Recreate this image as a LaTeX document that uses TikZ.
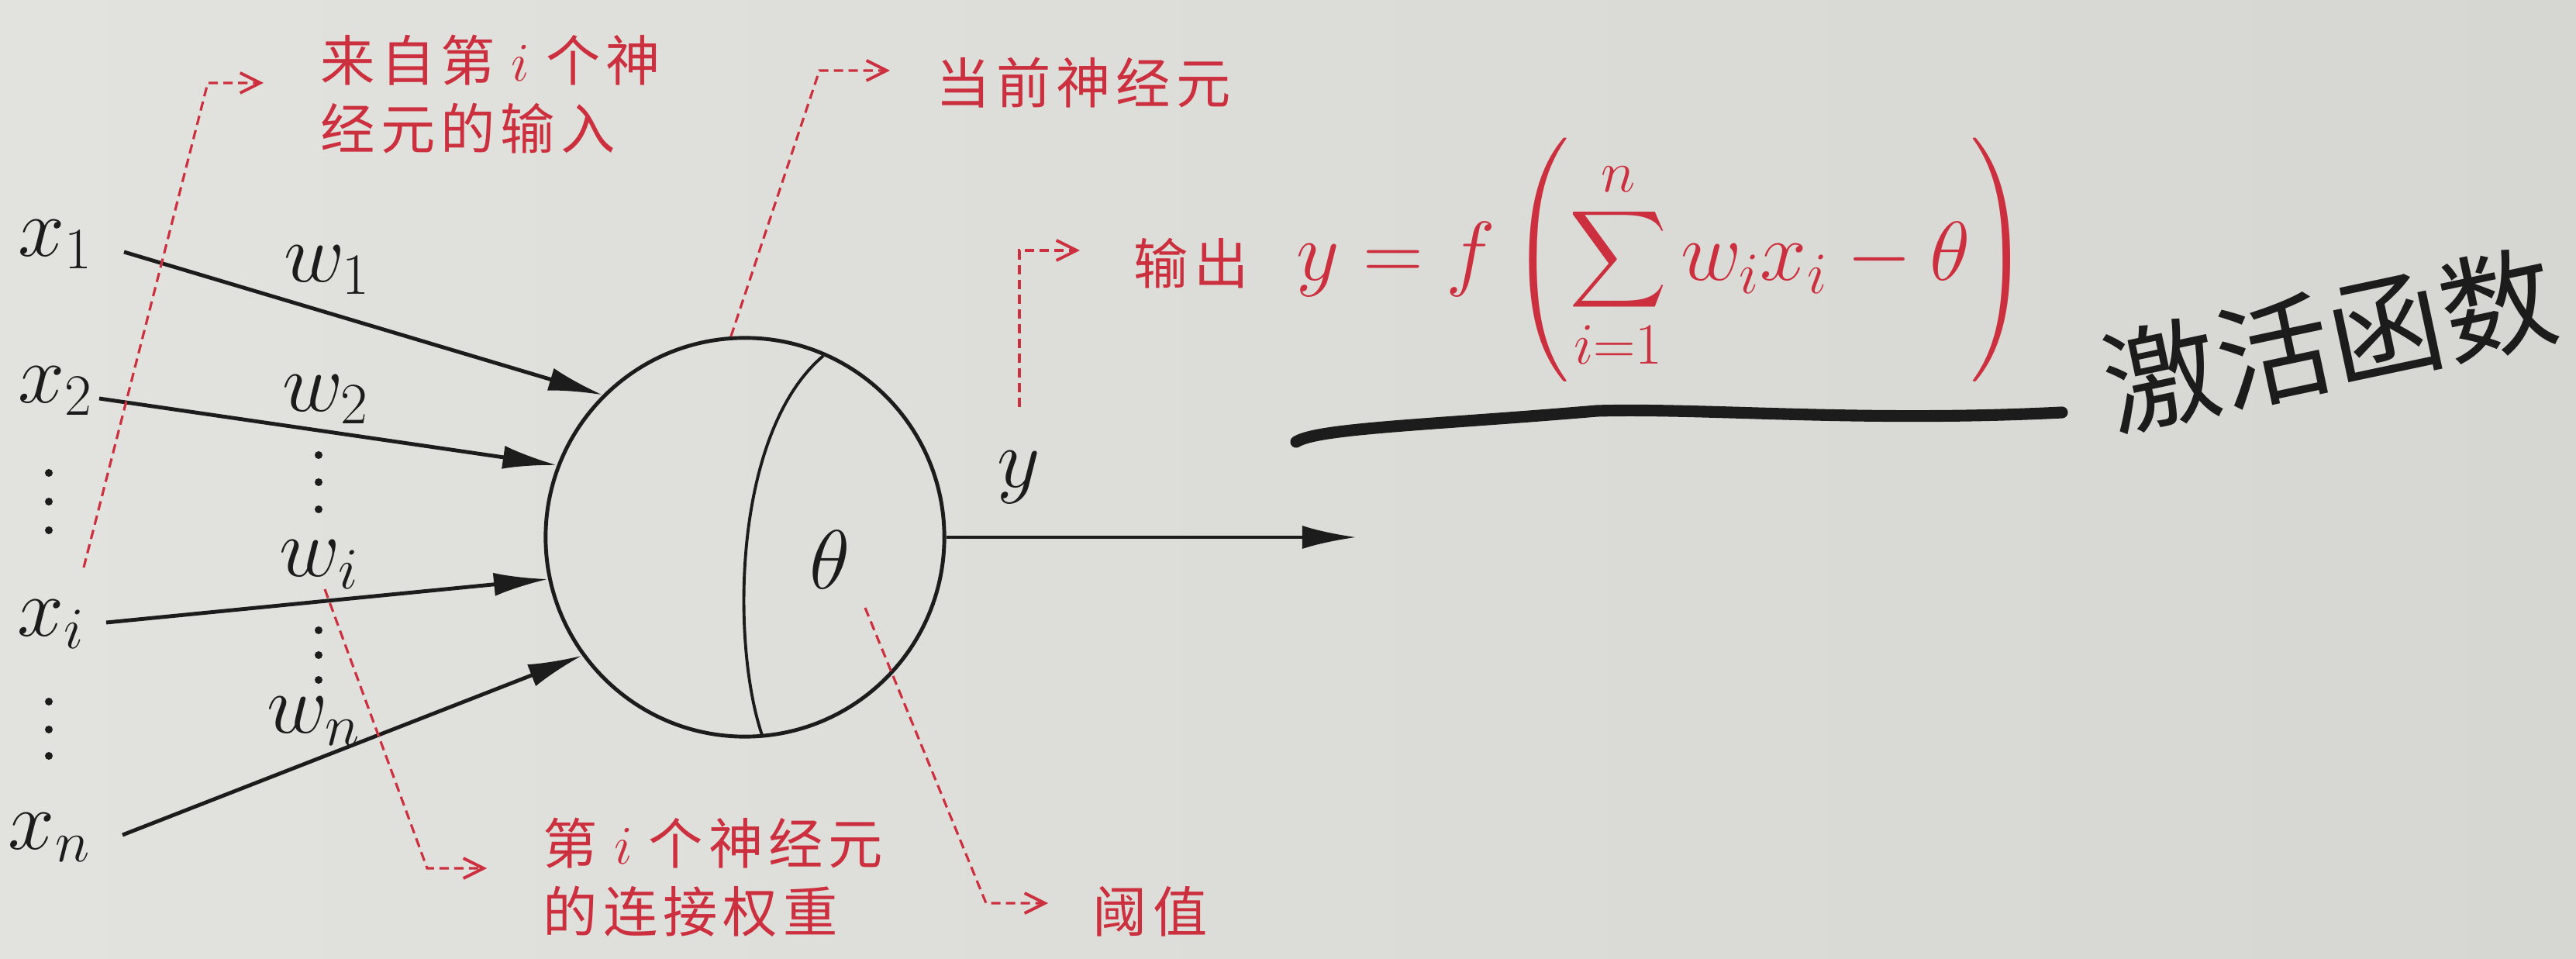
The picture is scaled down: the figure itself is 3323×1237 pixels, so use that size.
\RequirePackage{fix-cm}
\documentclass[tikz,border=0pt]{standalone}
\usepackage{amsmath}
\usepackage{fontspec}
\usetikzlibrary{arrows.meta}
\newfontfamily\cjk{Noto Sans CJK SC}
\newfontfamily\cjkls[LetterSpace=10]{Noto Sans CJK SC}
\newcommand\mfs{\fontsize{30.7}{36}\selectfont}
\definecolor{myred}{RGB}{204,48,62}
\definecolor{ink}{RGB}{28,28,28}
\definecolor{bgl}{RGB}{226,226,223}
\definecolor{bgr}{RGB}{214,214,210}
\tikzset{
  lab/.style={font=\mfs, text=ink, inner sep=0pt},
  arr/.style={draw=ink, line width=1.4pt, -{Latex[length=0.7cm, width=0.3cm]}},
  rdash/.style={draw=myred, line width=0.9pt, dash pattern=on 0.12cm off 0.07cm,
    -{Straight Barb[length=0.26cm, width=0.26cm, line width=1.1pt]}},
  ctext/.style={text=myred, font=\cjkls\fontsize{20}{25}\selectfont, anchor=west,
    inner sep=0pt, align=left},
  dotm/.style={fill=ink},
}
\begin{document}
\begin{tikzpicture}[x=0.01cm, y=-0.01cm]
\useasboundingbox (0,0) rectangle (3323,1237);
\shade[left color=bgl, right color=bgr] (0,0) rectangle (3323,1237);

% neuron
\node[circle, draw=ink, line width=1.4pt, minimum size=5.14cm, inner sep=0pt] (neuron) at (961,693) {};
\draw[ink, line width=1.1pt] (1062,459) .. controls (945,558) and (943,830) .. (983,948);
\node[lab] (theta) at (1071,722) {$\theta$};

% inputs
\node[lab] (x1) at (72,315) {$x_1$};
\node[lab] (x2) at (72,504) {$x_2$};
\node[lab] (xi) at (66,805) {$x_i$};
\node[lab] (xn) at (64,1080) {$x_n$};
\node[lab] (w1) at (422,348) {$w_1$};
\node[lab] (w2) at (420,515) {$w_2$};
\node[lab] (wi) at (412,728) {$w_i$};
\node[lab] (wn) at (405,930) {$w_n$};

\coordinate (s1) at (160,325);
\coordinate (s2) at (128,514);
\coordinate (si) at (137,803);
\coordinate (sn) at (158,1077);
\draw[arr] (s1) -- (neuron.135);
\draw[arr] (s2) -- (neuron.159);
\draw[arr] (si) -- (neuron.192);
\draw[arr] (sn) -- (neuron.216);

% dots
\foreach \yy in {610,647,684,905,941,975} \fill[dotm] (63,\yy) circle (0.05cm);
\foreach \yy in {587,622,657,813,845,877} \fill[dotm] (411,\yy) circle (0.05cm);

% output
\coordinate (out) at (1750,693);
\draw[arr] (neuron.east) -- (out);
\node[lab] (ylab) at (1314,616) {$y$};

% red annotations
\node[ctext] (tin) at (413,122) {来自第\hspace{0.3em}$i$\hspace{0.3em}个神\\经元的输入};
\coordinate (c1b) at (108,732); \coordinate (c1k) at (268,107); \coordinate (c1t) at (340,107);
\draw[rdash] (c1b) -- (c1k) -- (c1t);

\node[ctext] (tcur) at (1207,107) {当前神经元};
\coordinate (c2k) at (1057,91); \coordinate (c2t) at (1148,91);
\draw[rdash] (neuron.94) -- (c2k) -- (c2t);

\node[ctext] (tout) at (1462,340) {输出};
\coordinate (c3b) at (1315,525); \coordinate (c3k) at (1315,323); \coordinate (c3t) at (1393,323);
\draw[rdash] (c3b) -- (c3k) -- (c3t);
\node[text=myred, font=\mfs, anchor=west, inner sep=0pt] (formula) at (1672,335)
  {$y = f\left(\displaystyle\sum_{i=1}^{n} w_i x_i - \theta\right)$};

\node[ctext] (tw) at (700,1132) {第\hspace{0.3em}$i$\hspace{0.3em}个神经元\\的连接权重};
\coordinate (c4b) at (419,760); \coordinate (c4k) at (551,1120); \coordinate (c4t) at (628,1120);
\draw[rdash] (c4b) -- (c4k) -- (c4t);

\node[ctext] (tth) at (1409,1176) {阈值};
\coordinate (c5b) at (1116,784); \coordinate (c5k) at (1272,1165); \coordinate (c5t) at (1352,1165);
\draw[rdash] (c5b) -- (c5k) -- (c5t);

% handwritten note
\draw[ink, line width=4.3pt, line cap=round] (1672,570) .. controls (1700,552) and (1850,548) .. (2060,530)
  .. controls (2200,526) and (2400,545) .. (2660,532);
\node[text=ink, font=\cjk\fontsize{42}{42}\selectfont, rotate=12, inner sep=0pt] (hand) at (3005,438) {激活函数};
\end{tikzpicture}
\end{document}
